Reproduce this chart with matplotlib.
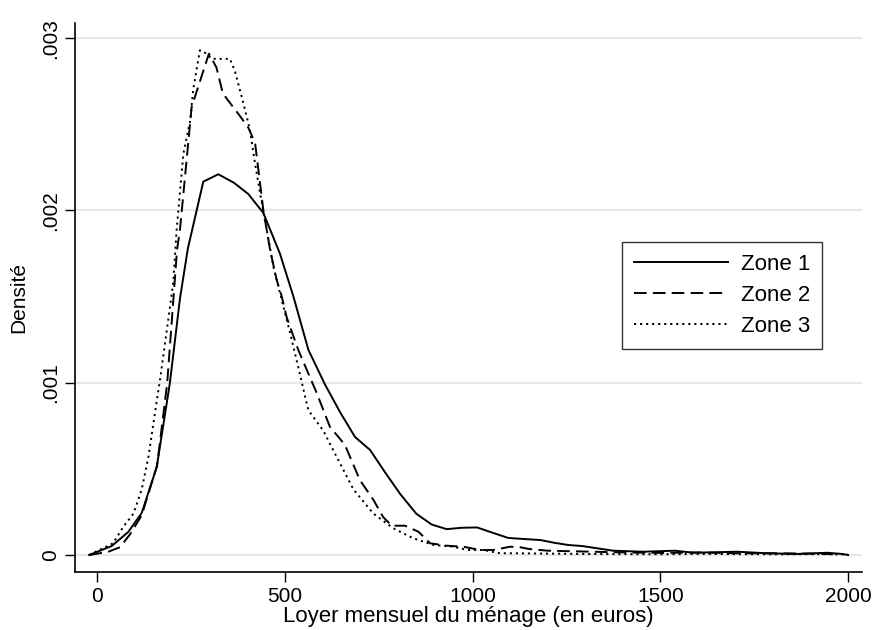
import numpy as np
import matplotlib
matplotlib.use("Agg")
import matplotlib.pyplot as plt

# density curves (rent in euros, density)
zone1_x = [-21, 39, 83, 119, 159, 194, 221, 242, 283, 323, 365, 403, 443, 487, 523, 563,
           607, 647, 687, 727, 767, 807, 850, 891, 931, 971, 1012, 1055, 1095, 1135, 1180,
           1220, 1255, 1292, 1374, 1454, 1539, 1588, 1704, 1784, 1864, 1944, 1984, 2000]
zone1_y = [0, 5.2e-5, 1.33e-4, 2.44e-4, 5.1e-4, 9.98e-4, 1.49e-3, 1.78e-3, 2.167e-3, 2.21e-3,
           2.16e-3, 2.095e-3, 1.985e-3, 1.75e-3, 1.50e-3, 1.19e-3, 9.9e-4, 8.3e-4, 6.85e-4,
           6.1e-4, 4.8e-4, 3.55e-4, 2.4e-4, 1.77e-4, 1.5e-4, 1.58e-4, 1.6e-4, 1.28e-4, 9.9e-5,
           9.3e-5, 8.7e-5, 7e-5, 5.8e-5, 5.2e-5, 2.5e-5, 1.9e-5, 2.5e-5, 1.3e-5, 1.9e-5, 1e-5,
           6e-6, 1.3e-5, 6e-6, 0]

zone2_x = [-20, 30, 61, 88, 119, 160, 187, 213, 221, 252, 289, 298, 318, 335, 352, 380, 403,
           421, 443, 461, 478, 492, 505, 536, 585, 620, 660, 700, 736, 762, 785, 820, 856, 887,
           931, 976, 1020, 1055, 1100, 1127, 1150, 1200, 1300, 1400, 1500, 1600, 1700, 1800,
           1900, 1960]
zone2_y = [0, 1.9e-5, 4.5e-5, 1.2e-4, 2.3e-4, 5.2e-4, 1.0e-3, 1.77e-3, 1.89e-3, 2.6e-3,
           2.85e-3, 2.91e-3, 2.83e-3, 2.68e-3, 2.63e-3, 2.55e-3, 2.48e-3, 2.39e-3, 2.0e-3,
           1.77e-3, 1.6e-3, 1.5e-3, 1.38e-3, 1.19e-3, 9.4e-4, 7.45e-4, 6.4e-4, 4.35e-4, 3.2e-4,
           2.2e-4, 1.7e-4, 1.7e-4, 1.35e-4, 6.8e-5, 5.4e-5, 4.8e-5, 2.9e-5, 2.9e-5, 4.8e-5,
           4.5e-5, 3.5e-5, 2.5e-5, 2e-5, 1.5e-5, 1.2e-5, 1.5e-5, 1e-5, 1e-5, 8e-6, 5e-6]

zone3_x = [-21, 43, 70, 97, 119, 137, 154, 168, 203, 212, 230, 248, 256, 274, 292, 305, 354,
           367, 390, 407, 421, 439, 452, 470, 492, 514, 536, 554, 563, 603, 638, 683, 736, 789,
           842, 896, 949, 985, 1029, 1073, 1118, 1200, 1300, 1400, 1500, 1600, 1700, 1800,
           1900, 2000]
zone3_y = [0, 6.8e-5, 1.64e-4, 2.4e-4, 3.8e-4, 5.7e-4, 8.2e-4, 1.02e-3, 1.58e-3, 1.886e-3,
           2.33e-3, 2.52e-3, 2.7e-3, 2.93e-3, 2.91e-3, 2.88e-3, 2.88e-3, 2.81e-3, 2.62e-3,
           2.47e-3, 2.27e-3, 2.04e-3, 1.886e-3, 1.67e-3, 1.48e-3, 1.29e-3, 1.09e-3, 9.2e-4,
           8.4e-4, 7.2e-4, 5.7e-4, 3.8e-4, 2.4e-4, 1.55e-4, 9.7e-5, 5.8e-5, 4.8e-5, 2.9e-5,
           2.9e-5, 1e-5, 1e-5, 8e-6, 6e-6, 5e-6, 4e-6, 6e-6, 5e-6, 4e-6, 5e-6, 3e-6]

series_labels = ["Zone 1", "Zone 2", "Zone 3"]
x_ticks = [0, 500, 1000, 1500, 2000]
y_ticks = [0, 0.001, 0.002, 0.003]
y_ticklabels = ["0", ".001", ".002", ".003"]

plt.rcParams['font.family'] = ['Liberation Sans Narrow', 'Liberation Sans', 'DejaVu Sans']

fig = plt.figure(figsize=(8.75, 6.3), dpi=100)
ax = fig.add_axes([75 / 875, 1 - 572 / 630, 787 / 875, 549 / 630])

lw = 1.4
ax.plot(zone1_x, zone1_y, color='black', lw=lw, linestyle='-', label=series_labels[0])
ax.plot(zone2_x, zone2_y, color='black', lw=lw, linestyle=(0, (6.5, 3.2)), label=series_labels[1])
ax.plot(zone3_x, zone3_y, color='black', lw=lw, linestyle=(0, (1.1, 2.0)), label=series_labels[2])

ax.set_xlim(-58.6, 2037)
ax.set_ylim(-0.0000987, 0.003088)

ax.set_xticks(x_ticks)
ax.set_yticks(y_ticks)
ax.set_yticklabels(y_ticklabels, rotation=90, va='center')
ax.tick_params(axis='both', direction='out', length=7, width=1, labelsize=15, colors='black')
ax.tick_params(axis='y', pad=4)

ax.grid(axis='y', color='#e8e8e8', lw=1.6)
ax.set_axisbelow(True)
for s in ['top', 'right']:
    ax.spines[s].set_visible(False)
for s in ['left', 'bottom']:
    ax.spines[s].set_linewidth(1.2)

ax.set_xlabel('Loyer mensuel du ménage (en euros)', fontsize=16, labelpad=0)
ax.set_ylabel('Densité', fontsize=15, labelpad=9)

leg = ax.legend(loc='upper left', bbox_to_anchor=(0.695, 0.601), fontsize=16,
                handlelength=4.2, frameon=True, fancybox=False, borderpad=0.55,
                labelspacing=0.45, handletextpad=0.6, borderaxespad=0)
leg.get_frame().set_edgecolor('black')
leg.get_frame().set_linewidth(1.0)

fig.savefig('out.png', dpi=100)
